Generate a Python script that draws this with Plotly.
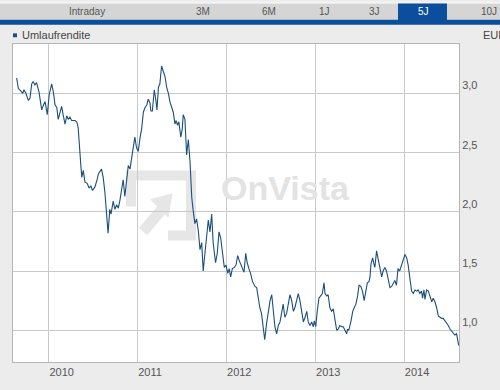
import plotly.graph_objects as go

dates = [
"2009-08-21","2009-08-28","2009-09-07","2009-09-15","2009-09-20","2009-09-28","2009-10-08","2009-10-15","2009-10-22","2009-10-28",
"2009-11-04","2009-11-11","2009-11-21","2009-12-02","2009-12-09","2009-12-16","2009-12-25","2010-01-02","2010-01-12","2010-01-19",
"2010-01-26","2010-02-02","2010-02-08","2010-02-15","2010-02-22","2010-03-01","2010-03-08","2010-03-15","2010-03-21","2010-03-28",
"2010-04-04","2010-04-18","2010-04-25","2010-05-01","2010-05-08","2010-05-12","2010-05-16","2010-05-22","2010-05-29","2010-06-07",
"2010-06-15","2010-06-22","2010-06-29","2010-07-09","2010-07-19","2010-07-23","2010-08-05","2010-08-12","2010-08-19","2010-08-26",
"2010-09-01","2010-09-08","2010-09-13","2010-09-22","2010-09-29","2010-10-06","2010-10-13","2010-10-20","2010-10-27","2010-11-02",
"2010-11-09","2010-11-16","2010-11-23","2010-11-30","2010-12-07","2010-12-13","2010-12-20","2010-12-27","2011-01-03","2011-01-10",
"2011-01-17","2011-01-24","2011-01-31","2011-02-07","2011-02-13","2011-02-20","2011-02-24","2011-03-02","2011-03-10","2011-03-16",
"2011-03-21","2011-03-27","2011-04-02","2011-04-09","2011-04-16","2011-04-23","2011-04-30","2011-05-07","2011-05-13","2011-05-20",
"2011-05-27","2011-06-03","2011-06-07","2011-06-14","2011-06-19","2011-06-27","2011-07-03","2011-07-07","2011-07-14","2011-07-21",
"2011-07-28","2011-08-04","2011-08-11","2011-08-17","2011-08-24","2011-08-31","2011-09-07","2011-09-14","2011-09-21","2011-09-27",
"2011-10-04","2011-10-11","2011-10-18","2011-10-25","2011-11-01","2011-11-07","2011-11-17","2011-11-24","2011-12-01","2011-12-08",
"2011-12-16","2011-12-23","2011-12-30","2012-01-06","2012-01-12","2012-01-18","2012-01-25","2012-02-02","2012-02-09","2012-02-16",
"2012-02-22","2012-03-01","2012-03-07","2012-03-13","2012-03-20","2012-03-26","2012-04-02","2012-04-09","2012-04-17","2012-04-27",
"2012-05-04","2012-05-10","2012-05-17","2012-05-24","2012-05-31","2012-06-06","2012-06-14","2012-06-21","2012-06-28","2012-07-05",
"2012-07-11","2012-07-18","2012-07-25","2012-08-01","2012-08-08","2012-08-15","2012-08-21","2012-08-28","2012-09-04","2012-09-11",
"2012-09-18","2012-09-25","2012-10-02","2012-10-08","2012-10-15","2012-10-22","2012-10-29","2012-11-05","2012-11-12","2012-11-19",
"2012-11-26","2012-12-02","2012-12-09","2012-12-16","2012-12-23","2012-12-27","2013-01-02","2013-01-08","2013-01-15","2013-01-22",
"2013-01-29","2013-02-05","2013-02-09","2013-02-16","2013-02-22","2013-03-01","2013-03-08","2013-03-15","2013-03-22","2013-03-29",
"2013-04-04","2013-04-11","2013-04-18","2013-04-25","2013-05-02","2013-05-09","2013-05-13","2013-05-18","2013-05-27","2013-06-03",
"2013-06-09","2013-06-16","2013-06-23","2013-06-29","2013-07-06","2013-07-13","2013-07-20","2013-07-27","2013-08-02","2013-08-09",
"2013-08-13","2013-08-17","2013-08-24","2013-08-29","2013-09-02","2013-09-09","2013-09-16","2013-09-23","2013-09-30","2013-10-06",
"2013-10-13","2013-10-20","2013-10-27","2013-11-03","2013-11-10","2013-11-16","2013-11-23","2013-11-30","2013-12-06","2013-12-13",
"2013-12-20","2013-12-27","2014-01-04","2014-01-11","2014-01-17","2014-01-24","2014-01-31","2014-02-07","2014-02-14","2014-02-21",
"2014-02-27","2014-03-06","2014-03-13","2014-03-17","2014-03-23","2014-03-27","2014-04-03","2014-04-10","2014-04-17","2014-04-24",
"2014-04-30","2014-05-07","2014-05-14","2014-05-21","2014-05-28","2014-06-04","2014-06-10","2014-06-17","2014-06-24","2014-07-01",
"2014-07-08","2014-07-15","2014-07-21","2014-07-28","2014-08-04","2014-08-08","2014-08-13",
]

yields = [
3.13,3.04,3.02,3.00,3.03,3.00,2.94,2.96,3.08,3.10,
3.07,3.09,3.01,2.86,2.90,2.93,2.82,2.99,3.08,3.01,
2.90,2.88,2.78,2.85,2.89,2.81,2.74,2.81,2.78,2.80,
2.77,2.77,2.76,2.71,2.55,2.39,2.29,2.35,2.25,2.24,
2.20,2.22,2.18,2.21,2.28,2.32,2.36,2.29,2.16,1.94,
1.82,2.02,1.98,2.09,2.02,2.06,2.03,2.10,2.21,2.27,
2.13,2.24,2.39,2.36,2.46,2.57,2.63,2.54,2.51,2.62,
2.70,2.84,2.88,2.90,2.95,2.92,2.85,2.85,3.03,2.95,
2.86,3.05,3.08,3.23,3.19,3.14,3.05,3.00,2.93,2.89,
2.84,2.74,2.77,2.73,2.76,2.63,2.70,2.82,2.78,2.48,
2.61,2.42,2.12,2.01,1.90,1.94,1.84,1.68,1.74,1.50,
1.65,1.79,1.93,1.83,1.98,1.74,1.57,1.65,1.83,1.78,
1.63,1.53,1.55,1.48,1.52,1.45,1.52,1.53,1.55,1.63,
1.59,1.55,1.52,1.49,1.65,1.57,1.52,1.48,1.41,1.37,
1.36,1.27,1.19,1.14,1.03,0.92,1.06,1.16,1.25,1.30,
1.16,1.03,0.97,1.04,1.07,1.16,1.22,1.11,1.14,1.22,
1.30,1.25,1.16,1.19,1.25,1.31,1.25,1.16,1.07,1.11,
1.16,1.07,1.04,1.07,1.03,1.08,1.03,1.16,1.27,1.29,
1.31,1.40,1.31,1.29,1.30,1.19,1.16,1.18,1.08,1.00,
1.01,1.04,1.03,1.03,1.00,0.97,1.01,1.00,1.08,1.16,
1.19,1.22,1.29,1.38,1.37,1.33,1.25,1.33,1.40,1.41,
1.45,1.56,1.61,1.56,1.53,1.67,1.60,1.55,1.45,1.50,
1.53,1.50,1.44,1.36,1.37,1.40,1.42,1.38,1.52,1.50,
1.55,1.60,1.64,1.61,1.55,1.44,1.33,1.31,1.34,1.33,
1.34,1.31,1.33,1.27,1.34,1.26,1.34,1.33,1.29,1.24,
1.27,1.24,1.19,1.12,1.11,1.10,1.10,1.08,1.07,1.04,
1.01,0.99,0.97,0.96,0.97,0.92,0.87,
]

year_ticks = ["2010-01-01", "2011-01-01", "2012-01-01", "2013-01-01", "2014-01-01"]
year_labels = ["2010", "2011", "2012", "2013", "2014"]
y_ticks = [1.0, 1.5, 2.0, 2.5, 3.0]
tabs = ["Intraday", "3M", "6M", "1J", "3J", "5J", "10J"]
tab_centers = [87, 203, 269, 324, 374, 423, 489]
series_name = "Umlaufrendite"
unit = "EUR"

W, H = 500, 390
L, R, T, B = 13, 459, 44, 373

def px(x):
    return (x - L) / (R - L)

def py(y):
    return (B - y) / (B - T)

fig = go.Figure()
fig.add_trace(go.Scatter(x=dates, y=yields, mode="lines",
                         line=dict(color="#1b4f7d", width=1.1),
                         name=series_name, showlegend=False, hoverinfo="skip"))

font = "Liberation Sans, Arial, sans-serif"
shapes = []
annotations = []

# top tab bar
shapes.append(dict(type="rect", xref="paper", yref="paper", x0=px(0), x1=px(500), y0=py(19), y1=py(2),
                   fillcolor="#d5d5d5", line=dict(width=0), layer="below"))
shapes.append(dict(type="rect", xref="paper", yref="paper", x0=px(0), x1=px(500), y0=py(2), y1=py(0),
                   fillcolor="#f4f4f4", line=dict(width=0), layer="below"))
shapes.append(dict(type="rect", xref="paper", yref="paper", x0=px(398), x1=px(447), y0=py(20), y1=py(2),
                   fillcolor="#0b4f9c", line=dict(width=0), layer="below"))
shapes.append(dict(type="rect", xref="paper", yref="paper", x0=px(0), x1=px(500), y0=py(24), y1=py(19),
                   fillcolor="#0b4f9c", line=dict(width=0), layer="below"))
for name, cx in zip(tabs, tab_centers):
    annotations.append(dict(xref="paper", yref="paper", x=px(cx), y=py(10.5), text=name, showarrow=False,
                            xanchor="center", yanchor="middle",
                            font=dict(family=font, size=10, color="#ffffff" if name == "5J" else "#555555")))

# legend marker and label
shapes.append(dict(type="rect", xref="paper", yref="paper", x0=px(13), x1=px(17), y0=py(37), y1=py(33),
                   fillcolor="#1b4f7d", line=dict(width=0)))
annotations.append(dict(xref="paper", yref="paper", x=px(19.5), y=py(35), text=series_name, showarrow=False,
                        xanchor="left", yanchor="middle", font=dict(family=font, size=11, color="#444444")))
annotations.append(dict(xref="paper", yref="paper", x=px(481), y=py(35), text=unit, showarrow=False,
                        xanchor="left", yanchor="middle", font=dict(family=font, size=11, color="#444444")))

# watermark logo
wm = "#e6e6e6"
shapes.append(dict(type="path", xref="paper", yref="paper", layer="below",
                   path="M {} {} L {} {} L {} {} L {} {} L {} {}".format(
                       px(131), py(212), px(131), py(180), px(191), py(180), px(191), py(242), px(168), py(242)),
                   line=dict(color=wm, width=10)))
shapes.append(dict(type="line", xref="paper", yref="paper", layer="below",
                   x0=px(143), y0=py(238), x1=px(162), y1=py(215), line=dict(color=wm, width=11)))
shapes.append(dict(type="path", xref="paper", yref="paper", layer="below",
                   path="M {} {} L {} {} L {} {} Z".format(px(151), py(205), px(172), py(199), px(168), py(223)),
                   fillcolor=wm, line=dict(color=wm, width=1)))
annotations.append(dict(xref="paper", yref="paper", x=px(285), y=py(193), text="<b>OnVista</b>", showarrow=False,
                        xanchor="center", yanchor="middle",
                        font=dict(family="Liberation Sans, Arial, sans-serif", size=34, color="#e3e3e3")))

fig.update_layout(
    width=W, height=H,
    margin=dict(l=L, r=W - R, t=T, b=H - B, pad=0),
    paper_bgcolor="#ececec", plot_bgcolor="#ffffff",
    separators=",.",
    showlegend=False,
    hovermode=False,
    shapes=shapes, annotations=annotations,
    xaxis=dict(type="date", range=["2009-08-06", "2014-08-14"],
               tickvals=year_ticks, ticktext=year_labels,
               ticklabelposition="outside right", ticks="",
               showgrid=True, gridcolor="#c9c9c9", gridwidth=1,
               showline=True, linecolor="#b5b5b5", mirror=True, zeroline=False,
               tickfont=dict(family=font, size=11, color="#555555")),
    yaxis=dict(side="right", range=[0.732, 3.416], tickvals=y_ticks, tickformat=".1f",
               ticklabelposition="outside top", ticks="",
               showgrid=True, gridcolor="#c9c9c9", gridwidth=1,
               showline=True, linecolor="#b5b5b5", mirror=True, zeroline=False,
               tickfont=dict(family=font, size=11, color="#555555")),
)

fig.write_html("out.html", config={"displayModeBar": False, "staticPlot": True},
               post_script="document.body.style.margin='0';document.body.style.overflow='hidden';")
